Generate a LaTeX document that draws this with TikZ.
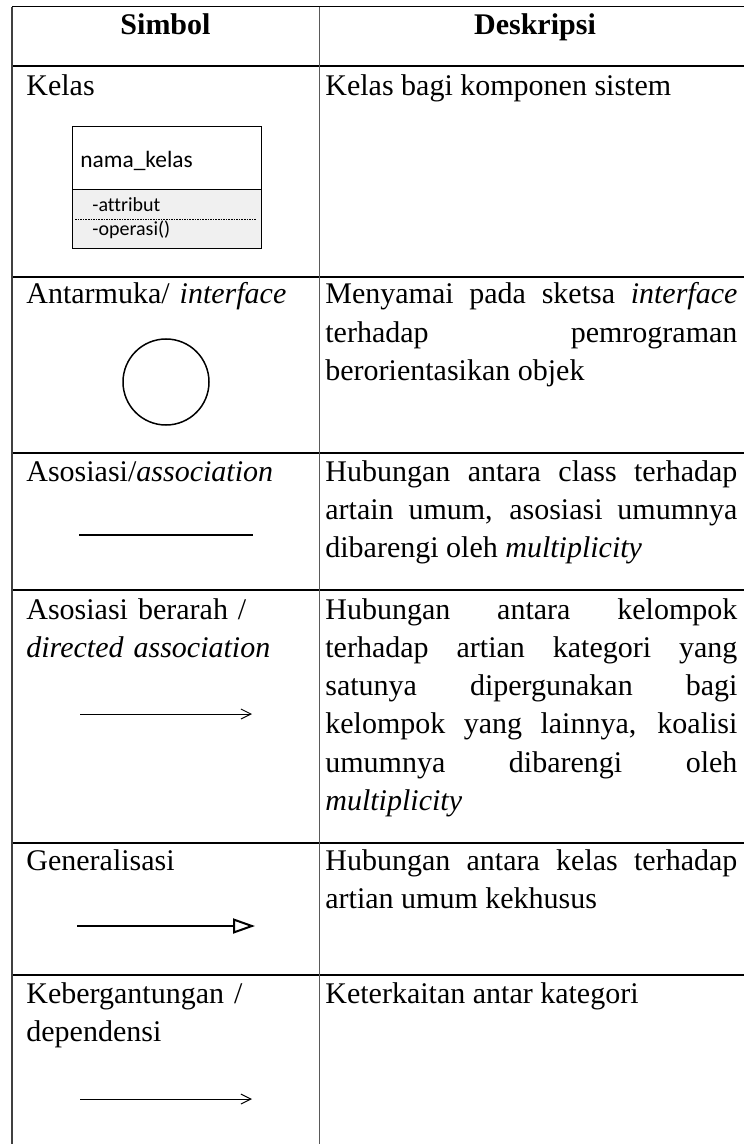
\documentclass[tikz,border=0pt]{standalone}
\usepackage{fontspec}
\setmainfont{Liberation Serif}
\newfontfamily\umlfont[Ligatures=NoCommon]{Carlito}
\usetikzlibrary{arrows.meta}
\usetikzlibrary{positioning}

\tikzset{
  cell/.style={anchor=base west, inner sep=0pt, text width=145pt, align=left,
    font=\fontsize{15}{19.15}\selectfont},
  desc/.style={cell, text width=206pt, align=justify},
  head/.style={anchor=base, inner sep=0pt, font=\fontsize{15}{19.15}\selectfont\bfseries},
  umltext/.style={anchor=base west, inner sep=0pt, font=\umlfont\fontsize{10}{12}\selectfont},
  rowline/.style={line width=1pt},
  symline/.style={line width=1pt},
  thinarrow/.style={line width=0.5pt, -{Straight Barb[length=5pt,width=5pt]}},
  genarrow/.style={line width=1pt, -{Triangle[open,length=11pt,width=7.5pt]}}
}

\begin{document}
\begin{tikzpicture}[x=0.5pt,y=-0.5pt]

  \def\colLeft{12}
  \def\colMid{319}
  \def\colRight{744}
  % row borders
  \def\RowList{66,277,453,590,843,975}

  \useasboundingbox (0,0) rectangle (744,1144);

  %Grid
  \draw[line width=0.5pt] (\colLeft,7) -- (\colRight,7);
  \foreach \y in \RowList
      {\draw[rowline] (\colLeft,\y) -- (\colRight,\y);}
  \draw[line width=0.75pt,black!75] (\colLeft,7) -- (\colLeft,1144);
  \draw[line width=0.5pt,black!65] (\colMid,7) -- (\colMid,1144);

  %Headers
  \node[head] (simbol) at (165.5,35) {Simbol};
  \node[head] (deskripsi) at (535,35) {Deskripsi};

  % Symbol names
  \node[cell] (kelas) at (26,96) {Kelas};
  \node[cell] (antarmuka) at (26,304) {Antarmuka/ \textit{interface}};
  \node[cell] (asosiasi) at (26,481) {Asosiasi/\textit{association}};
  \node[cell] (berarah) at (26,619) {Asosiasi berarah /\\ \textit{directed association}};
  \node[cell] (generalisasi) at (26,870) {Generalisasi};
  \node[cell] (dependensi) at (26,1003) {Kebergantungan /\\ dependensi};

  % Descriptions
  \node[desc] (dkelas) at (325,96) {Kelas bagi komponen sistem};
  \node[desc] (dantarmuka) at (325,304) {Menyamai pada sketsa \textit{interface}\linebreak
    terhadap pemrograman\linebreak berorientasikan objek};
  \node[desc] (dasosiasi) at (325,481) {Hubungan antara class terhadap\linebreak
    artain umum, asosiasi umumnya\linebreak dibarengi oleh \textit{multiplicity}};
  \node[desc] (dberarah) at (325,619) {Hubungan antara kelompok\linebreak
    terhadap artian kategori yang\linebreak satunya dipergunakan bagi\linebreak
    kelompok yang lainnya, koalisi\linebreak umumnya dibarengi oleh\linebreak
    \textit{multiplicity}};
  \node[desc] (dgeneralisasi) at (325,870) {Hubungan antara kelas terhadap\linebreak
    artian umum kekhusus};
  \node[desc] (ddependensi) at (325,1003) {Keterkaitan antar kategori};

  %Class box
  \filldraw[fill=white, line width=0.5pt] (72,127) rectangle (261,190);
  \filldraw[fill=black!6, line width=0.5pt] (72,190) rectangle (261,249);
  \draw[line width=0.4pt, dash pattern=on 0.8pt off 0.5pt] (75,219) -- (256,219);
  \node[umltext, font=\umlfont\fontsize{11.7}{14}\selectfont] (namakelas) at (80,168) {nama\_kelas};
  \node[umltext] (attribut) at (92,212) {-attribut};
  \node[umltext] (operasi) at (92,236) {-operasi()};

  %Interface
  \node[circle, draw, line width=0.75pt, minimum size=43pt, inner sep=0pt] (iface) at (166,382) {};

  % Symbol lines
  \coordinate (assocA) at (79,535);
  \coordinate (assocB) at (253,535);
  \draw[symline] (assocA) -- (assocB);

  \coordinate (dirA) at (80,714);
  \coordinate (dirB) at (252,714);
  \draw[thinarrow] (dirA) -- (dirB);

  \coordinate (genA) at (77,926);
  \coordinate (genB) at (255,926);
  \draw[genarrow] (genA) -- (genB);

  \coordinate (depA) at (80,1099);
  \coordinate (depB) at (252,1099);
  \draw[thinarrow] (depA) -- (depB);
\end{tikzpicture}
\end{document}
